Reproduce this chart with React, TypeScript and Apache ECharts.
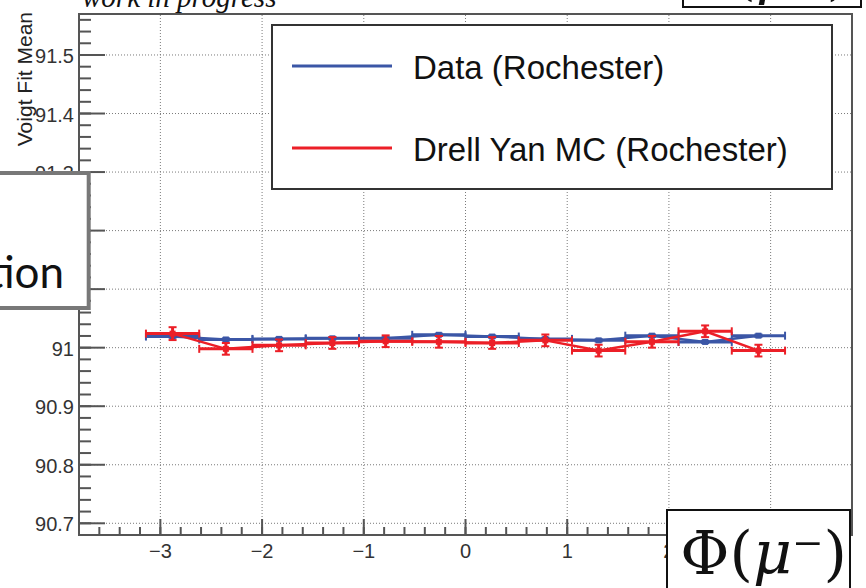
import React, { useEffect, useRef } from "react";
import * as echarts from "echarts";

// 12 bins in phi from -pi to pi
const binCenters = [-2.88, -2.356, -1.833, -1.309, -0.785, -0.262, 0.262, 0.785, 1.309, 1.833, 2.356, 2.88];
const binHalfWidth = 0.2618;

const dataMean = [91.019, 91.014, 91.015, 91.016, 91.016, 91.022, 91.019, 91.015, 91.0125, 91.0205, 91.0098, 91.0205];
const dataErr = [0.002, 0.002, 0.002, 0.002, 0.002, 0.002, 0.002, 0.002, 0.002, 0.002, 0.002, 0.002];

const mcMean = [91.024, 90.998, 91.004, 91.008, 91.011, 91.010, 91.008, 91.0125, 90.995, 91.010, 91.028, 90.995];
const mcErr = [0.011, 0.010, 0.010, 0.010, 0.010, 0.010, 0.010, 0.010, 0.010, 0.010, 0.010, 0.010];

const xMajorTicks = [-3, -2, -1, 0, 1, 2, 3];
const xTickLabels = ["\u22123", "\u22122", "\u22121", "0", "1", "2", "3"];
const yMajorTicks = [90.7, 90.8, 90.9, 91.0, 91.1, 91.2, 91.3, 91.4, 91.5];
const yTickLabels = ["90.7", "90.8", "90.9", "91", "91.1", "91.2", "91.3", "91.4", "91.5"];

const X_MIN = -3.8;
const X_MAX = 3.8;
const Y_MIN = 90.68;
const Y_MAX = 91.57;
const X_MINOR_STEP = 0.2;
const Y_MINOR_STEP = 0.02;

const BLUE = "#3b56a6";
const RED = "#ec1f27";
const AXIS = "#555555";
const SANS = "'Liberation Sans', Arial, Helvetica, sans-serif";
const SERIF = "'DejaVu Serif', serif";

function errorSeries(name: string, means: number[], errs: number[], color: string, z: number) {
  return {
    type: "custom",
    name,
    z,
    data: binCenters.map((c, i) => [c, means[i], errs[i]]),
    renderItem: (_params: any, api: any) => {
      const x = api.value(0);
      const y = api.value(1);
      const e = api.value(2);
      const pL = api.coord([x - binHalfWidth, y]);
      const pR = api.coord([x + binHalfWidth, y]);
      const pT = api.coord([x, y + e]);
      const pB = api.coord([x, y - e]);
      const c = api.coord([x, y]);
      const thick = { stroke: color, lineWidth: 3 };
      const thin = { stroke: color, lineWidth: 2 };
      const cap = 4;
      return {
        type: "group",
        children: [
          { type: "line", shape: { x1: pL[0], y1: pL[1], x2: pR[0], y2: pR[1] }, style: thick },
          { type: "line", shape: { x1: pL[0], y1: pL[1] - cap, x2: pL[0], y2: pL[1] + cap }, style: thin },
          { type: "line", shape: { x1: pR[0], y1: pR[1] - cap, x2: pR[0], y2: pR[1] + cap }, style: thin },
          { type: "line", shape: { x1: pT[0], y1: pT[1], x2: pB[0], y2: pB[1] }, style: thick },
          { type: "line", shape: { x1: pT[0] - cap, y1: pT[1], x2: pT[0] + cap, y2: pT[1] }, style: thin },
          { type: "line", shape: { x1: pB[0] - cap, y1: pB[1], x2: pB[0] + cap, y2: pB[1] }, style: thin },
          { type: "rect", shape: { x: c[0] - 3, y: c[1] - 3, width: 6, height: 6 }, style: { fill: color } },
        ],
      };
    },
  };
}

function lineSeries(name: string, means: number[], color: string, z: number) {
  return {
    type: "line",
    name,
    z,
    data: binCenters.map((c, i) => [c, means[i]]),
    symbol: "none",
    lineStyle: { color, width: 2.5 },
  };
}

function axesSeries() {
  return {
    type: "custom",
    name: "axes",
    z: 1,
    silent: true,
    data: [[0, 91]],
    renderItem: (_params: any, api: any) => {
      const children: any[] = [];
      const grid = { stroke: "#7a7a7a", lineWidth: 1, lineDash: [1, 2] };
      const tick = { stroke: AXIS, lineWidth: 2 };
      const bl = api.coord([X_MIN, Y_MIN]);
      const tr = api.coord([X_MAX, Y_MAX]);
      xMajorTicks.forEach((v) => {
        const p = api.coord([v, Y_MIN]);
        children.push({ type: "line", shape: { x1: p[0], y1: bl[1], x2: p[0], y2: tr[1] }, style: grid });
      });
      yMajorTicks.forEach((v) => {
        const p = api.coord([X_MIN, v]);
        children.push({ type: "line", shape: { x1: bl[0], y1: p[1], x2: tr[0], y2: p[1] }, style: grid });
      });
      const nx = Math.round((X_MAX - X_MIN) / X_MINOR_STEP);
      for (let i = 1; i < nx; i++) {
        const v = X_MIN + i * X_MINOR_STEP;
        const p = api.coord([v, Y_MIN]);
        children.push({ type: "line", shape: { x1: p[0], y1: bl[1], x2: p[0], y2: bl[1] - 8 }, style: tick });
      }
      const ny = Math.round((Y_MAX - Y_MIN) / Y_MINOR_STEP);
      for (let i = 1; i <= ny; i++) {
        const v = Y_MIN + i * Y_MINOR_STEP;
        const p = api.coord([X_MIN, v]);
        children.push({ type: "line", shape: { x1: bl[0], y1: p[1], x2: bl[0] + 12, y2: p[1] }, style: tick });
      }
      xMajorTicks.forEach((v, i) => {
        const p = api.coord([v, Y_MIN]);
        children.push({ type: "line", shape: { x1: p[0], y1: bl[1], x2: p[0], y2: bl[1] - 16 }, style: tick });
        children.push({
          type: "text",
          style: {
            text: xTickLabels[i], x: p[0], y: bl[1] + 16, align: "center", verticalAlign: "middle",
            fontSize: 20, fontFamily: SANS, fill: "#333",
          },
        });
      });
      yMajorTicks.forEach((v, i) => {
        const p = api.coord([X_MIN, v]);
        children.push({ type: "line", shape: { x1: bl[0], y1: p[1], x2: bl[0] + 26, y2: p[1] }, style: tick });
        children.push({
          type: "text",
          style: {
            text: yTickLabels[i], x: bl[0] - 5, y: p[1] + 1, align: "right", verticalAlign: "middle",
            fontSize: 20, fontFamily: SANS, fill: "#333",
          },
        });
      });
      return { type: "group", children };
    },
  };
}

function phiText(x: number, y: number, sup: string) {
  return {
    type: "text", z: 71, x, y,
    style: {
      text: "{n|\u03a6(}{i|\u03bc}{s|" + sup + "}{n|)}", align: "right", verticalAlign: "middle",
      rich: {
        n: { fontSize: 60, fontFamily: SERIF, fill: "#111" },
        i: { fontSize: 60, fontStyle: "italic", fontFamily: SERIF, fill: "#111" },
        s: { fontSize: 60, fontFamily: SERIF, fill: "#111" },
      },
    },
  };
}

export default function App() {
  const ref = useRef<HTMLDivElement>(null);
  useEffect(() => {
    if (!ref.current) return;
    const chart = echarts.init(ref.current, undefined, { renderer: "svg" });
    chart.setOption({
      animation: false,
      backgroundColor: "#ffffff",
      grid: { left: 79, top: 14, width: 773, height: 521, show: true, borderColor: AXIS, borderWidth: 2, backgroundColor: "transparent" },
      xAxis: {
        type: "value", min: X_MIN, max: X_MAX,
        axisLine: { show: false }, axisTick: { show: false }, axisLabel: { show: false }, splitLine: { show: false },
      },
      yAxis: {
        type: "value", min: Y_MIN, max: Y_MAX,
        axisLine: { show: false }, axisTick: { show: false }, axisLabel: { show: false }, splitLine: { show: false },
      },
      series: [
        axesSeries(),
        lineSeries("Data (Rochester)", dataMean, BLUE, 2),
        errorSeries("Data (Rochester) errors", dataMean, dataErr, BLUE, 3),
        lineSeries("Drell Yan MC (Rochester)", mcMean, RED, 4),
        errorSeries("Drell Yan MC (Rochester) errors", mcMean, mcErr, RED, 5),
      ],
      graphic: [
        {
          type: "text", z: 50, x: 24, y: 12, rotation: Math.PI / 2,
          style: { text: "Voigt Fit Mean", align: "right", verticalAlign: "middle", fontSize: 21, fontFamily: SANS, fill: "#222" },
        },
        {
          type: "text", z: 50, x: 82, y: -3,
          style: { text: "work in progress", align: "left", verticalAlign: "middle", fontSize: 29, fontStyle: "italic", fontFamily: "'Liberation Serif', 'Times New Roman', serif", fill: "#111" },
        },
        {
          type: "group", z: 60,
          children: [
            { type: "rect", z: 60, shape: { x: 272, y: 25, width: 560, height: 164 }, style: { fill: "#fff", stroke: "#333", lineWidth: 2 } },
            { type: "line", z: 61, shape: { x1: 292, y1: 66, x2: 392, y2: 66 }, style: { stroke: BLUE, lineWidth: 3 } },
            { type: "line", z: 61, shape: { x1: 292, y1: 148, x2: 392, y2: 148 }, style: { stroke: RED, lineWidth: 3 } },
            { type: "text", z: 61, x: 413, y: 67, style: { text: "Data (Rochester)", align: "left", verticalAlign: "middle", fontSize: 33, fontFamily: SANS, fill: "#111" } },
            { type: "text", z: 61, x: 413, y: 149, style: { text: "Drell Yan MC (Rochester)", align: "left", verticalAlign: "middle", fontSize: 33, fontFamily: SANS, fill: "#111" } },
          ],
        },
        {
          type: "group", z: 70,
          children: [
            { type: "rect", z: 70, shape: { x: -10, y: 173, width: 98.7, height: 135 }, style: { fill: "#fff", stroke: "#787878", lineWidth: 4 } },
            { type: "text", z: 71, x: 64, y: 271, style: { text: "tion", align: "right", verticalAlign: "middle", fontSize: 44, fontFamily: "Lato, 'Open Sans', sans-serif", fill: "#111" } },
          ],
        },
        {
          type: "group", z: 70,
          children: [
            { type: "rect", z: 70, shape: { x: 667, y: 510, width: 183, height: 90 }, style: { fill: "#fff", stroke: "#111", lineWidth: 2 } },
            phiText(847, 553, "\u207b"),
          ],
        },
        {
          type: "group", z: 70,
          children: [
            { type: "rect", z: 70, shape: { x: 683, y: -60, width: 178, height: 67 }, style: { fill: "#fff", stroke: "#111", lineWidth: 2 } },
            phiText(850, -28, "\u207a"),
          ],
        },
      ],
    });
    return () => chart.dispose();
  }, []);
  return <div ref={ref} style={{ position: "absolute", left: 0, top: 0, width: 866, height: 588 }} />;
}
